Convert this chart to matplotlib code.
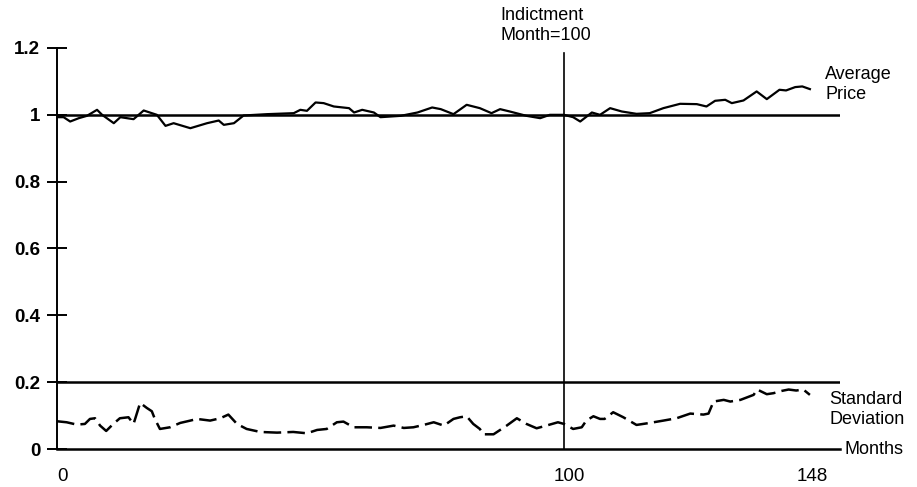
import matplotlib
matplotlib.use("Agg")
import matplotlib.pyplot as plt
from matplotlib.transforms import ScaledTranslation

plt.rcParams['font.family'] = ['Liberation Sans', 'DejaVu Sans']

# Average price (ratio to base)
price_month = [0, 1.3, 2.6, 4.3, 5.9, 7.9, 8.9, 11.2, 12.5, 15.1, 17.1, 19.7, 21.4, 23,
               26.3, 29.6, 31.9, 32.9, 34.9, 36.8, 41.4, 46.7, 48, 49.3, 51, 52.6, 54.6,
               57.6, 58.6, 60.2, 62.5, 63.8, 67.8, 71.1, 74, 75.7, 78.2, 80.8, 83.4, 85.7,
               87.4, 89.3, 92.6, 95.3, 97.2, 100, 101.8, 103.2, 105.5, 107.1, 109.1, 111.4,
               114.3, 116.9, 119.6, 122.9, 126.2, 128.1, 129.8, 131.8, 133.1, 135.4, 138,
               140, 142.5, 143.8, 145.6, 147, 148.5]
price_value = [0.993, 0.993, 0.980, 0.990, 0.997, 1.015, 1.000, 0.975, 0.993, 0.987, 1.013,
               1.000, 0.967, 0.975, 0.960, 0.975, 0.983, 0.970, 0.975, 0.998, 1.002, 1.005,
               1.015, 1.012, 1.037, 1.035, 1.025, 1.020, 1.007, 1.015, 1.007, 0.993, 0.997,
               1.007, 1.022, 1.017, 1.002, 1.030, 1.020, 1.005, 1.017, 1.010, 0.997, 0.990,
               1.000, 1.000, 0.993, 0.980, 1.007, 1.000, 1.020, 1.010, 1.003, 1.005, 1.020,
               1.033, 1.032, 1.025, 1.042, 1.045, 1.035, 1.043, 1.070, 1.047, 1.075, 1.073,
               1.083, 1.085, 1.077]

# Standard deviation
sd_month = [0, 1.9, 3.9, 5.5, 6.5, 7.5, 8.5, 9.7, 11.1, 12.4, 14.1, 15.1, 16.4, 17.7, 18.7,
            19.3, 20.3, 22.3, 24.3, 26.3, 27.6, 30.2, 32.2, 33.8, 35.5, 37.4, 40.1, 43.4,
            46.6, 49.3, 51.3, 53.2, 55.2, 56.5, 58.5, 61.1, 63.8, 66.4, 68.4, 70.3, 72.3,
            74.3, 76.3, 78.2, 79.5, 80.8, 82.1, 83.4, 84.1, 86.1, 88.7, 90.7, 92.6, 94.6,
            96.5, 98.8, 100, 101.8, 103.5, 104.4, 105.8, 107.1, 108, 109.7, 111.7, 114.3,
            116.9, 119.6, 122.2, 124.9, 127.5, 128.5, 129.5, 131.5, 132.8, 134.8, 137.4,
            138.1, 140, 141.3, 143.0, 144.3, 145.8, 147.2, 148.5]
sd_value = [0.083, 0.080, 0.073, 0.075, 0.090, 0.092, 0.070, 0.054, 0.075, 0.092, 0.095,
            0.075, 0.138, 0.123, 0.113, 0.090, 0.060, 0.065, 0.078, 0.085, 0.090, 0.085,
            0.092, 0.103, 0.075, 0.060, 0.051, 0.049, 0.051, 0.047, 0.057, 0.060, 0.080,
            0.082, 0.065, 0.065, 0.063, 0.070, 0.063, 0.065, 0.072, 0.080, 0.070, 0.090,
            0.095, 0.098, 0.075, 0.060, 0.044, 0.044, 0.070, 0.092, 0.075, 0.062, 0.070,
            0.080, 0.075, 0.060, 0.065, 0.085, 0.098, 0.090, 0.090, 0.110, 0.095, 0.072,
            0.078, 0.085, 0.092, 0.106, 0.103, 0.106, 0.142, 0.147, 0.142, 0.147, 0.162,
            0.178, 0.164, 0.167, 0.174, 0.178, 0.175, 0.178, 0.162]

y_ticks = [0, 0.2, 0.4, 0.6, 0.8, 1.0, 1.2]
y_tick_labels = ["0", "0.2", "0.4", "0.6", "0.8", "1", "1.2"]
x_ticks = [0, 100, 148]
x_tick_labels = ["0", "100", "148"]
indictment_month = 100

fig = plt.figure(figsize=(9.17, 4.87), dpi=100)
ax = fig.add_axes([57/917, 1 - 449/487, (840 - 57)/917, (449 - 48)/487])
ax.set_xlim(0, (840 - 57) / 5.07)
ax.set_ylim(0, 1.2)

for s in ['top', 'right']:
    ax.spines[s].set_visible(False)
ax.spines['left'].set_linewidth(1.4)
ax.spines['bottom'].set_linewidth(1.8)

# reference lines
ax.axhline(1.0, color='black', lw=1.8, zorder=2)
ax.axhline(0.2, color='black', lw=1.8, zorder=2)
ax.plot([indictment_month, indictment_month], [0, 1.185], color='black', lw=1.2,
        clip_on=False)

ax.plot(price_month, price_value, color='black', lw=1.6, zorder=3)
ax.plot(sd_month, sd_value, color='black', lw=1.8, linestyle=(0, (7, 2.5)), zorder=3)

ax.set_yticks(y_ticks)
ax.set_yticklabels(y_tick_labels, fontsize=13.5, fontweight='bold')
ax.tick_params(axis='y', direction='inout', length=14, width=1.4, pad=5)
ax.set_xticks(x_ticks)
ax.set_xticklabels(x_tick_labels, fontsize=13.5)
ax.tick_params(axis='x', length=0, pad=14)
off = ScaledTranslation(5/100, 0, fig.dpi_scale_trans)
for lbl in ax.get_xticklabels():
    lbl.set_transform(lbl.get_transform() + off)

fs = 13
ax.text(87.4, 1.322, "Indictment\nMonth=100", fontsize=fs, ha='left', va='top',
        linespacing=1.2, clip_on=False)
ax.text(151.5, 1.146, "Average\nPrice", fontsize=fs, ha='left', va='top',
        linespacing=1.2, clip_on=False)
ax.text(152.3, 0.1735, "Standard\nDeviation", fontsize=fs, ha='left', va='top',
        linespacing=1.2, clip_on=False)
ax.text(155.4, 0.0, "Months", fontsize=fs, ha='left', va='center', clip_on=False)

fig.savefig("out.png", dpi=100)
